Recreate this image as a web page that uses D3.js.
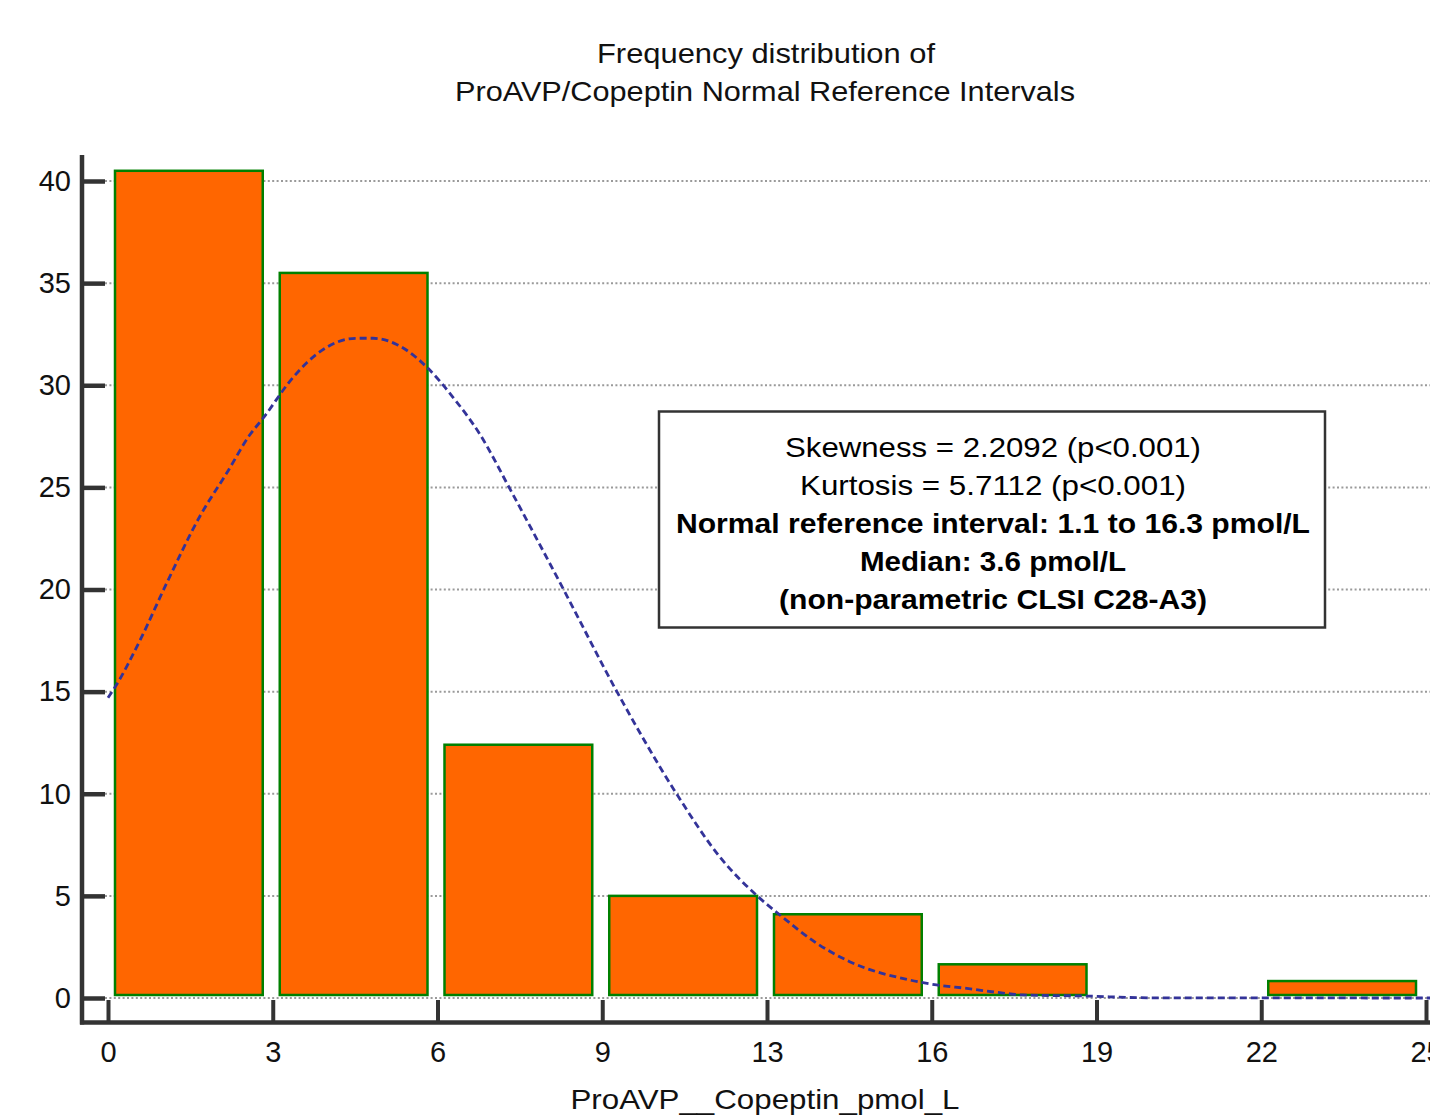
<!DOCTYPE html>
<html>
<head>
<meta charset="utf-8">
<title>Frequency distribution of ProAVP/Copeptin</title>
<script src="https://d3js.org/d3.v7.min.js"></script>
<style>
  body { margin: 0; background: #fff; font-family: "Liberation Sans", Arial, sans-serif; }
  .tick text { font-size: 29px; fill: #111; font-family: "Liberation Sans", Arial, sans-serif; }
</style>
</head>
<body>
<svg id="chart"></svg>
<script>
// ---- data ----
var binWidth = 3.15;
var binStarts = [0, 3.15, 6.3, 9.45, 12.6, 15.75, 18.9, 22.05];
var binPercent = [40.5, 35.5, 12.4, 5.0, 4.1, 1.65, 0, 0.83];
var xTickValues = [0, 3.15, 6.3, 9.45, 12.6, 15.75, 18.9, 22.05, 25.2];
var xTickLabels = ["0", "3", "6", "9", "13", "16", "19", "22", "25"];
var yTickValues = [0, 5, 10, 15, 20, 25, 30, 35, 40];

// fitted normal curve, traced points (x, percent)
var curveX = [0, 0.13, 0.61, 1.12, 1.76, 2.27, 2.72, 2.97, 3.48, 3.80, 4.37, 4.76, 5.07, 5.52, 6.09, 6.60, 7.11, 7.69, 8.71, 9.73, 10.87, 11.70, 12.43, 12.85, 13.55, 14.18, 15.33, 15.84, 16.42, 17.05, 17.49, 18.64, 19.92, 25.3];
var curveY = [14.7, 15.2, 17.5, 20.3, 23.6, 25.7, 27.6, 28.4, 30.2, 31.1, 32.1, 32.3, 32.3, 32.0, 30.9, 29.4, 27.6, 24.9, 20.0, 15.0, 10.0, 6.9, 4.96, 4.06, 2.68, 1.78, 0.88, 0.64, 0.47, 0.26, 0.15, 0.1, 0.01, 0];

var titleLines = ["Frequency distribution of", "ProAVP/Copeptin Normal Reference Intervals"];
var xAxisTitle = "ProAVP__Copeptin_pmol_L";
var statLines = [
  {text: "Skewness = 2.2092 (p<0.001)", bold: false, w: 416},
  {text: "Kurtosis = 5.7112 (p<0.001)", bold: false, w: 386},
  {text: "Normal reference interval: 1.1 to 16.3 pmol/L", bold: true, w: 634},
  {text: "Median: 3.6 pmol/L", bold: true, w: 266},
  {text: "(non-parametric CLSI C28-A3)", bold: true, w: 428}
];

// ---- layout ----
var W = 1430, H = 1115;
var svg = d3.select("#chart").attr("width", W).attr("height", H);

var x = d3.scaleLinear().domain([0, 25.2]).range([108, 1426]);
var y = d3.scaleLinear().domain([0, 40]).range([998, 181]);

// gridlines
svg.append("g").selectAll("line")
  .data(yTickValues)
  .enter().append("line")
  .attr("x1", 105).attr("x2", W)
  .attr("y1", function(d){ return y(d); })
  .attr("y2", function(d){ return y(d); })
  .attr("stroke", "#9a9a9a")
  .attr("stroke-width", 2)
  .attr("stroke-dasharray", "2,2.4");

// bars (empty bins not drawn)
var binPx = x(binWidth) - x(0);
var bins = binPercent.map(function(v, i){ return {start: binStarts[i], pct: v}; })
  .filter(function(b){ return b.pct > 0; });
svg.append("g").selectAll("rect")
  .data(bins)
  .enter().append("rect")
  .attr("x", function(d){ return x(d.start) + 7; })
  .attr("width", binPx - 17)
  .attr("y", function(d){ return y(d.pct); })
  .attr("height", function(d){ return y(0) - 3 - y(d.pct); })
  .attr("fill", "#ff6600")
  .attr("stroke", "#008000")
  .attr("stroke-width", 2.5);

// normal curve
var pts = curveX.map(function(v, i){ return [v, curveY[i]]; });
var line = d3.line()
  .x(function(d){ return x(d[0]); })
  .y(function(d){ return y(d[1]); })
  .curve(d3.curveMonotoneX);
svg.append("path")
  .datum(pts)
  .attr("d", line)
  .attr("fill", "none")
  .attr("stroke", "#333399")
  .attr("stroke-width", 2.8)
  .attr("stroke-dasharray", "7,4");

// axes
var xAxis = d3.axisBottom(x)
  .tickValues(xTickValues)
  .tickFormat(function(d, i){ return xTickLabels[i]; })
  .tickSizeInner(-22).tickSizeOuter(0).tickPadding(19);
var gx = svg.append("g").attr("transform", "translate(0,1022)").call(xAxis);
gx.select(".domain").remove();
gx.selectAll(".tick line").attr("stroke", "#333").attr("stroke-width", 4);

var yAxis = d3.axisLeft(y)
  .tickValues(yTickValues)
  .tickSizeInner(-23).tickSizeOuter(0).tickPadding(11);
var gy = svg.append("g").attr("transform", "translate(82,0)").call(yAxis);
gy.select(".domain").remove();
gy.selectAll(".tick line").attr("stroke", "#333").attr("stroke-width", 4.5);

svg.append("line").attr("x1", 82).attr("x2", 82).attr("y1", 155).attr("y2", 1024.5)
  .attr("stroke", "#333").attr("stroke-width", 4.5);
svg.append("line").attr("x1", 80).attr("x2", W).attr("y1", 1022.5).attr("y2", 1022.5)
  .attr("stroke", "#333").attr("stroke-width", 4.5);

// titles
svg.append("text").attr("x", 766).attr("y", 63).attr("text-anchor", "middle")
  .attr("font-size", 28).attr("fill", "#111")
  .attr("textLength", 338).attr("lengthAdjust", "spacingAndGlyphs")
  .text(titleLines[0]);
svg.append("text").attr("x", 765).attr("y", 101).attr("text-anchor", "middle")
  .attr("font-size", 28).attr("fill", "#111")
  .attr("textLength", 620).attr("lengthAdjust", "spacingAndGlyphs")
  .text(titleLines[1]);
svg.append("text").attr("x", 765).attr("y", 1109).attr("text-anchor", "middle")
  .attr("font-size", 28).attr("fill", "#111")
  .attr("textLength", 389).attr("lengthAdjust", "spacingAndGlyphs")
  .text(xAxisTitle);

// stats box
svg.append("rect").attr("x", 659).attr("y", 411.5).attr("width", 666).attr("height", 216)
  .attr("fill", "#fff").attr("stroke", "#333").attr("stroke-width", 2.5);
svg.append("g").selectAll("text")
  .data(statLines)
  .enter().append("text")
  .attr("x", 993)
  .attr("y", function(d, i){ return 457 + i * 38; })
  .attr("text-anchor", "middle")
  .attr("font-size", 28)
  .attr("font-weight", function(d){ return d.bold ? "bold" : "normal"; })
  .attr("fill", "#000")
  .attr("textLength", function(d){ return d.w; })
  .attr("lengthAdjust", "spacingAndGlyphs")
  .text(function(d){ return d.text; });
</script>
</body>
</html>
